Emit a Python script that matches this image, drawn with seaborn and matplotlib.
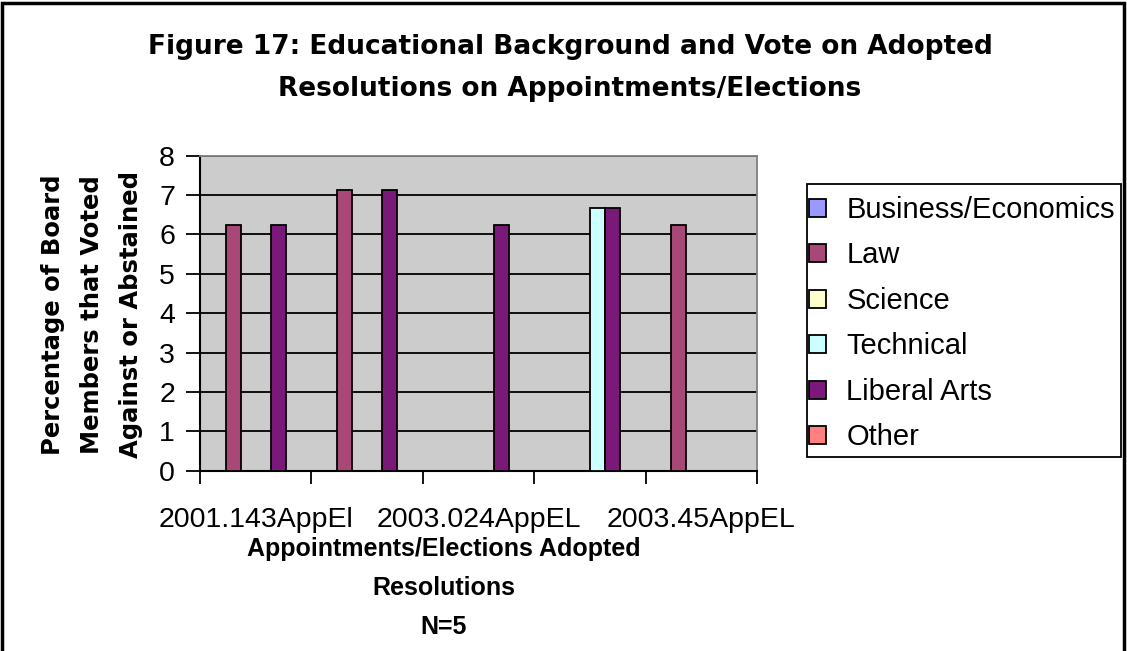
import numpy as np
import pandas as pd
import matplotlib
matplotlib.use("Agg")
import matplotlib.pyplot as plt
from matplotlib.patches import Rectangle
import seaborn as sns

# Resolutions 1..5 (N=5); only every other one carries a tick label
resolutions = [1, 2, 3, 4, 5]
tick_labels = ["2001.143AppEl", "", "2003.024AppEL", "", "2003.45AppEL"]

backgrounds = ["Business/Economics", "Law", "Science", "Technical", "Liberal Arts", "Other"]
colors = ["#9999FF", "#A84876", "#FFFFCC", "#CCFFFF", "#7A197A", "#FF8080"]

# Percentage of board members that voted against or abstained
business = [0, 0, 0, 0, 0]
law = [6.25, 7.14, 0, 0, 6.25]
science = [0, 0, 0, 0, 0]
technical = [0, 0, 0, 6.67, 0]
liberal_arts = [6.25, 7.14, 6.25, 6.67, 0]
other = [0, 0, 0, 0, 0]

series = [business, law, science, technical, liberal_arts, other]
rows = []
for name, vals in zip(backgrounds, series):
    for r, v in zip(resolutions, vals):
        rows.append({"resolution": r, "background": name, "value": v})
df = pd.DataFrame(rows)

sns.set_theme(style="white")
plt.rcParams["font.family"] = ["Liberation Sans", "DejaVu Sans"]
for key in ["text.color", "axes.labelcolor", "xtick.color", "ytick.color"]:
    plt.rcParams[key] = "black"

W, H = 1127, 651
fig = plt.figure(figsize=(W / 100, H / 100), dpi=100)
ax = fig.add_axes([200 / W, 1 - 470.7 / H, 557 / W, 315 / H])
ax.set_facecolor("#CCCCCC")

sns.barplot(data=df, x="resolution", y="value", hue="background",
            order=resolutions, hue_order=backgrounds, palette=colors,
            width=0.81, gap=0, edgecolor="black", linewidth=1.3,
            saturation=1, ax=ax, zorder=3)

ax.set_xlim(-0.5, 4.5)
ax.set_ylim(0, 8)
ax.set_yticks(range(0, 9))
ax.yaxis.grid(True, color="black", linewidth=1.3, zorder=0)
ax.set_axisbelow(True)

# labels at group centres, tick marks on group boundaries
ax.set_xticks(range(len(resolutions)))
ax.set_xticklabels(tick_labels)
ax.set_xticks(np.arange(-0.5, len(resolutions), 1.0), minor=True)
ax.tick_params(axis="x", which="major", length=0, pad=26, labelsize=20.5,
               labelcolor="black")
ax.tick_params(axis="x", which="minor", length=9, width=1.3, direction="out",
               color="black", bottom=True)
ax.tick_params(axis="y", length=10, width=1.3, direction="out", color="black",
               left=True, pad=8, labelsize=20.5, labelcolor="black")

for side in ["left", "bottom"]:
    ax.spines[side].set_color("black")
    ax.spines[side].set_linewidth(1.5)
for side in ["top", "right"]:
    ax.spines[side].set_color("#808080")
    ax.spines[side].set_linewidth(1.3)

ax.set_xlabel("")
ax.set_ylabel("")

# legend entries, with a separate box drawn around them
sns.move_legend(ax, loc="upper left", bbox_to_anchor=(809 / W, 1 - 196 / H),
                bbox_transform=fig.transFigure, title=None, frameon=False,
                fontsize=21, handlelength=0.58, handleheight=0.58,
                handletextpad=0.7, labelspacing=0.6, borderpad=0,
                borderaxespad=0)
leg = ax.get_legend()
for t in leg.get_texts():
    t.set_color("black")
for h in leg.legend_handles:
    h.set_edgecolor("black")
    h.set_linewidth(1.3)
fig.patches.append(Rectangle((807 / W, 1 - 457 / H), 314 / W, 273 / H,
                             transform=fig.transFigure, fill=False,
                             edgecolor="black", linewidth=1.3))

bold_family = ["DejaVu Sans"]
fig.text(570 / W, 1 - 68 / H,
         "Figure 17: Educational Background and Vote on Adopted\nResolutions on Appointments/Elections",
         ha="center", va="center", fontsize=19, fontweight="bold",
         family=bold_family, linespacing=1.75)
fig.text(92 / W, 1 - 315 / H,
         "Percentage of Board\nMembers that Voted\nAgainst or Abstained",
         ha="center", va="center", rotation=90, fontsize=17.5, fontweight="bold",
         family=bold_family, linespacing=1.8)
fig.text(444 / W, 1 - 588 / H,
         "Appointments/Elections Adopted\nResolutions\nN=5",
         ha="center", va="center", fontsize=18, fontweight="bold", linespacing=1.8)

fig.patches.append(Rectangle((2 / W, -0.01), (W - 5) / W, 1.01 - 3 / H,
                             transform=fig.transFigure, fill=False,
                             edgecolor="black", linewidth=2.5))

fig.savefig("out.png", dpi=100, facecolor="white")
